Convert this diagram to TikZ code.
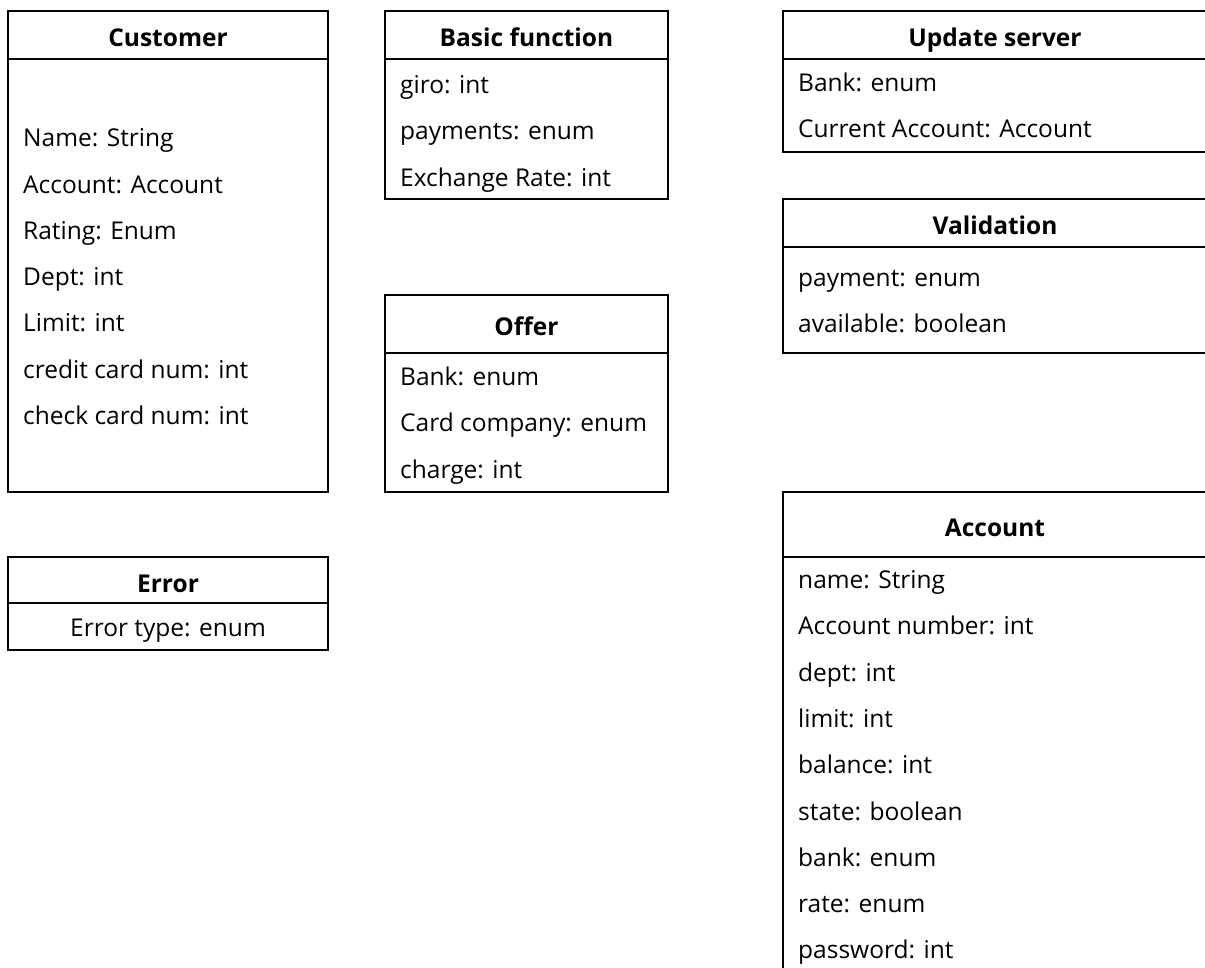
\documentclass[tikz,border=0pt]{standalone}
\usepackage{fontspec}
\setmainfont{Open Sans}
\usetikzlibrary{positioning}
\tikzset{
every node/.style = {font = \fontsize{24.5}{29}\selectfont},
classname/.style = {rectangle, draw, line width = 2pt, inner sep = 0pt, outer sep = 0pt,
	anchor = north west, text height = 23.6pt, text depth = 0pt,
	font = \fontsize{24.5}{29}\selectfont\bfseries},
classbody/.style = {rectangle, draw, line width = 2pt, inner sep = 0pt, outer sep = 0pt},
attribute/.style = {anchor = base west, inner sep = 0pt}
}

\begin{document}
\begin{tikzpicture}[x = 1pt, y = -1pt]
\useasboundingbox (0,0) rectangle (1205,967);
\clip (0,0) rectangle (1205,967);

%% Customer
\node [classname, minimum width = 320pt, minimum height = 48.3pt] (customer) at (8,10.7) {Customer};
\node [classbody, minimum width = 320pt, minimum height = 433pt,
	below right = 0pt and 0pt of customer.south west] (customer-box) {};
\foreach \attr [count = \i] in {Name: String, Account: Account, Rating: Enum, Dept: int,
	Limit: int, credit card num: int, check card num: int}
	\node [attribute] (customer-\i) at ({23}, {146.7 + 46.3*(\i-1)}) {\attr};

%% Basic function
\node [classname, minimum width = 283pt, minimum height = 48.3pt] (basic) at (385,10.7) {Basic function};
\node [classbody, minimum width = 283pt, minimum height = 140pt,
	below right = 0pt and 0pt of basic.south west] (basic-box) {};
\foreach \attr [count = \i] in {giro: int, payments: enum, Exchange Rate: int}
	\node [attribute] (basic-\i) at ({400}, {93.5 + 46.3*(\i-1)}) {\attr};

%% Offer
\node [classname, minimum width = 283pt, minimum height = 58.6pt] (offer) at (385,294.7) {Offer};
\node [classbody, minimum width = 283pt, minimum height = 138.7pt,
	below right = 0pt and 0pt of offer.south west] (offer-box) {};
\foreach \attr [count = \i] in {Bank: enum, Card company: enum, charge: int}
	\node [attribute] (offer-\i) at ({400}, {385.5 + 46.3*(\i-1)}) {\attr};

%% Update server
\node [classname, minimum width = 424pt, minimum height = 48.3pt] (update) at (783,10.7) {Update server};
\node [classbody, minimum width = 424pt, minimum height = 92.7pt,
	below right = 0pt and 0pt of update.south west] (update-box) {};
\foreach \attr [count = \i] in {Bank: enum, Current Account: Account}
	\node [attribute] (update-\i) at ({798}, {91.5 + 46.3*(\i-1)}) {\attr};

%% Validation
\node [classname, minimum width = 424pt, minimum height = 47.4pt] (valid) at (783,199.3) {Validation};
\node [classbody, minimum width = 424pt, minimum height = 106.6pt,
	below right = 0pt and 0pt of valid.south west] (valid-box) {};
\foreach \attr [count = \i] in {payment: enum, available: boolean}
	\node [attribute] (valid-\i) at ({798}, {286.5 + 46.3*(\i-1)}) {\attr};

%% Account
\node [classname, minimum width = 424pt, minimum height = 65pt] (account) at (783,492) {Account};
\node [classbody, minimum width = 424pt, minimum height = 420pt,
	below right = 0pt and 0pt of account.south west] (account-box) {};
\foreach \attr [count = \i] in {name: String, Account number: int, dept: int, limit: int,
	balance: int, state: boolean, bank: enum, rate: enum, password: int}
	\node [attribute] (account-\i) at ({798}, {588.5 + 46.3*(\i-1)}) {\attr};

%% Error
\node [classname, minimum width = 320pt, minimum height = 46pt] (error) at (8,557.3) {Error};
\node [classbody, minimum width = 320pt, minimum height = 46.7pt,
	below right = 0pt and 0pt of error.south west] (error-box) {};
\node [attribute, anchor = base] (error-1) at (168,636) {Error type: enum};

\end{tikzpicture}
\end{document}
